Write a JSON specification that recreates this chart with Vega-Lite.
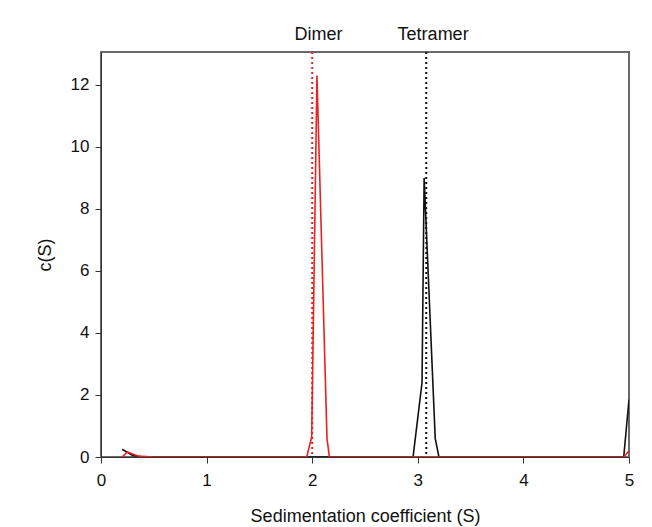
{
  "$schema": "https://vega.github.io/schema/vega-lite/v6.json",
  "width": 528,
  "height": 405,
  "autosize": {"type": "none"},
  "padding": {"left": 101, "top": 52, "right": 23, "bottom": 70},
  "background": "white",
  "config": {
    "view": {"stroke": "#6a6a6a", "strokeWidth": 2},
    "font": "Liberation Sans",
    "axis": {
      "grid": false,
      "domainColor": "#333",
      "tickColor": "#333",
      "labelColor": "#111",
      "titleColor": "#111",
      "labelFont": "Liberation Sans",
      "titleFont": "Liberation Sans",
      "labelFontSize": 17,
      "titleFontSize": 18,
      "titleFontWeight": "normal",
      "tickSize": 6,
      "labelFlush": false,
      "labelOverlap": false
    }
  },
  "datasets": {
    "curves": [
      {"s": 0.2, "c": 0.25, "sample": "tetramer"},
      {"s": 0.3, "c": 0.05, "sample": "tetramer"},
      {"s": 0.4, "c": 0.0, "sample": "tetramer"},
      {"s": 1.0, "c": 0.0, "sample": "tetramer"},
      {"s": 2.0, "c": 0.0, "sample": "tetramer"},
      {"s": 2.955, "c": 0.0, "sample": "tetramer"},
      {"s": 3.04, "c": 2.4, "sample": "tetramer"},
      {"s": 3.06, "c": 9.0, "sample": "tetramer"},
      {"s": 3.165, "c": 0.6, "sample": "tetramer"},
      {"s": 3.2, "c": 0.0, "sample": "tetramer"},
      {"s": 4.0, "c": 0.0, "sample": "tetramer"},
      {"s": 4.95, "c": 0.0, "sample": "tetramer"},
      {"s": 5.0, "c": 1.85, "sample": "tetramer"},
      {"s": 0.2, "c": 0.0, "sample": "dimer"},
      {"s": 0.25, "c": 0.16, "sample": "dimer"},
      {"s": 0.35, "c": 0.03, "sample": "dimer"},
      {"s": 0.5, "c": 0.0, "sample": "dimer"},
      {"s": 1.0, "c": 0.0, "sample": "dimer"},
      {"s": 1.948, "c": 0.0, "sample": "dimer"},
      {"s": 1.995, "c": 0.65, "sample": "dimer"},
      {"s": 2.045, "c": 12.3, "sample": "dimer"},
      {"s": 2.14, "c": 0.6, "sample": "dimer"},
      {"s": 2.163, "c": 0.0, "sample": "dimer"},
      {"s": 3.0, "c": 0.0, "sample": "dimer"},
      {"s": 4.0, "c": 0.0, "sample": "dimer"},
      {"s": 4.95, "c": 0.0, "sample": "dimer"},
      {"s": 5.0, "c": 0.2, "sample": "dimer"}
    ],
    "refs": [
      {"s": 2.0, "label": "Dimer", "lx": 2.06, "sample": "dimer"},
      {"s": 3.08, "label": "Tetramer", "lx": 3.145, "sample": "tetramer"}
    ]
  },
  "resolve": {"scale": {"x": "shared"}},
  "layer": [
    {
      "data": {"name": "refs"},
      "mark": {"type": "rule", "strokeDash": [2, 3], "strokeWidth": 2},
      "encoding": {
        "x": {"field": "s", "type": "quantitative", "scale": {"domain": [0, 5], "nice": false, "zero": false}},
        "color": {"field": "sample", "type": "nominal", "scale": {"domain": ["tetramer", "dimer"], "range": ["#111111", "#e8231f"]}, "legend": null}
      }
    },
    {
      "data": {"name": "curves"},
      "mark": {"type": "line", "strokeWidth": 1.6, "clip": true},
      "encoding": {
        "x": {"field": "s", "type": "quantitative", "scale": {"domain": [0, 5], "nice": false, "zero": false},
              "axis": {"values": [0, 1, 2, 3, 4, 5], "format": "d", "title": "Sedimentation coefficient (S)", "labelPadding": 9, "titlePadding": 19}},
        "y": {"field": "c", "type": "quantitative", "scale": {"domain": [0, 13.06], "nice": false, "zero": true},
              "axis": {"values": [0, 2, 4, 6, 8, 10, 12], "format": "d", "title": "c(S)", "labelPadding": 6, "titlePadding": 16}},
        "color": {"field": "sample", "type": "nominal", "scale": {"domain": ["tetramer", "dimer"], "range": ["#111111", "#e8231f"]}, "legend": null},
        "order": {"field": "s"},
        "detail": {"field": "sample"}
      }
    },
    {
      "data": {"name": "refs"},
      "mark": {"type": "text", "fontSize": 18, "font": "Liberation Sans", "color": "#111", "baseline": "middle", "align": "center", "y": -17},
      "encoding": {
        "x": {"field": "lx", "type": "quantitative", "scale": {"domain": [0, 5], "nice": false, "zero": false}},
        "text": {"field": "label"}
      }
    }
  ]
}
